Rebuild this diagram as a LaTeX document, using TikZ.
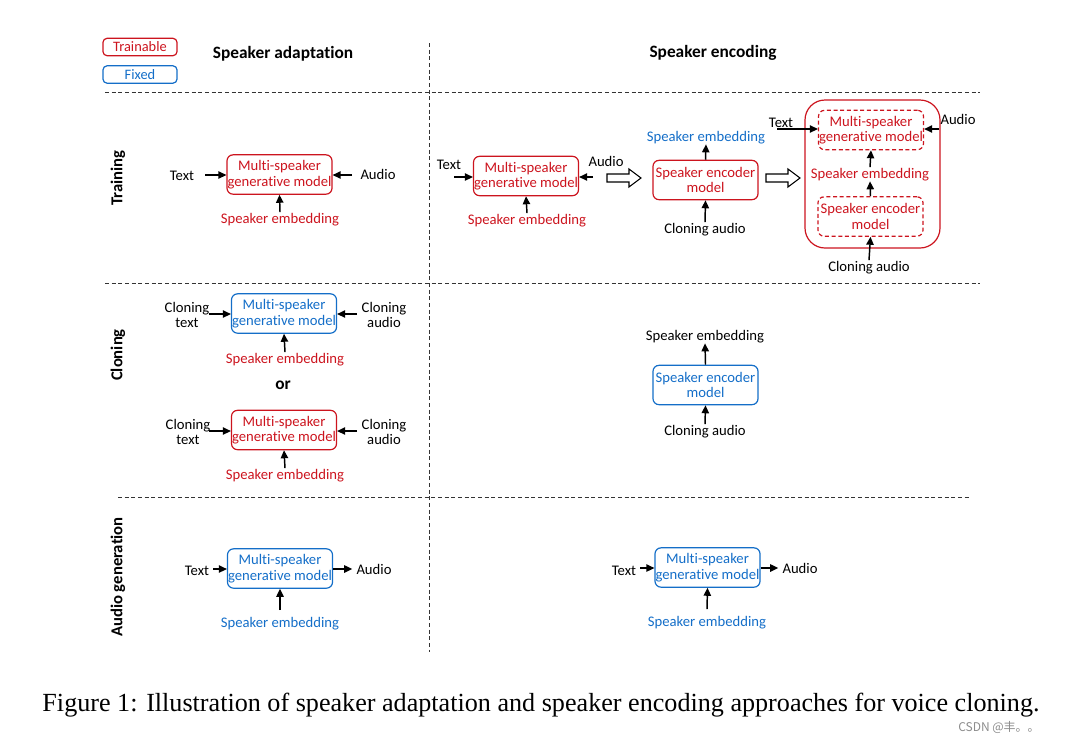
\documentclass[tikz,border=0pt]{standalone}
\usepackage{fontspec}
\setmainfont{Carlito}[Ligatures=NoCommon]
\newfontfamily\capfont{Liberation Serif}
\newfontfamily\cjk{Noto Sans CJK SC}
\usetikzlibrary{arrows.meta}
\definecolor{tred}{RGB}{204,20,30}
\definecolor{fblue}{RGB}{20,110,200}
\begin{document}
\begin{tikzpicture}[x=0.75pt,y=-0.75pt,
 txt/.style={font=\fontsize{11}{11.5}\selectfont, inner sep=0pt, align=center, yshift=-1.3pt},
 model/.style={draw, rounded corners=4.5pt, line width=0.9pt, minimum width=78.75pt, minimum height=29.5pt, inner sep=0pt, align=center, font=\fontsize{11}{11.5}\selectfont},
 trn/.style={model, draw=tred, text=tred},
 fix/.style={model, draw=fblue, text=fblue},
 dtrn/.style={trn, dash pattern=on 3pt off 2pt},
 legend/.style={draw, rounded corners=3pt, line width=0.9pt, minimum width=55.5pt, minimum height=13pt, inner sep=0pt, font=\fontsize{10.8}{12}\selectfont},
 arr/.style={-{Triangle[length=6pt,width=5.5pt]}, line width=1.1pt},
 sep/.style={dash pattern=on 3pt off 2pt, line width=0.7pt, draw=black!80},
 hdr/.style={font=\fontsize{13}{15}\selectfont\bfseries, inner sep=0pt},
 rowlab/.style={font=\fontsize{12.5}{15}\selectfont\bfseries, inner sep=0pt, rotate=90},
 harrow/.pic={\draw[line width=0.8pt, line join=miter] (0,-4)--(22,-4)--(22,-9)--(34,0)--(22,9)--(22,4)--(0,4)--cycle;}
]
\useasboundingbox (0,0) rectangle (1069,743);

% legend and headers
\node[legend, draw=tred, text=tred] (lt) at (140,47) {Trainable};
\node[legend, draw=fblue, text=fblue] (lf) at (140,74.5) {Fixed};
\node[hdr] (h1) at (283,54) {Speaker adaptation};
\node[hdr] (h2) at (713,53) {Speaker encoding};

% separators
\coordinate (v1) at (429,43); \coordinate (v2) at (429,652);
\draw[sep] (v1) -- (v2);
\coordinate (s1a) at (105,92); \coordinate (s1b) at (980,92);
\coordinate (s2a) at (105,283); \coordinate (s2b) at (980,283);
\coordinate (s3a) at (118,497); \coordinate (s3b) at (970,497);
\draw[sep] (s1a) -- (s1b);
\draw[sep] (s2a) -- (s2b);
\draw[sep] (s3a) -- (s3b);

% row labels
\node[rowlab] (r1) at (118,178) {Training};
\node[rowlab] (r2) at (118,355) {Cloning};
\node[rowlab] (r3) at (118,577) {Audio generation};

% ---------- Training, adaptation
\node[trn] (g1) at (279.5,174.5) {Multi-speaker\\generative model};
\node[txt] (t1) at (182,174) {Text};
\node[txt] (a1) at (378,173) {Audio};
\node[txt, text=tred] (e1) at (280,218) {Speaker embedding};
\coordinate (t1s) at (205,175); \coordinate (a1s) at (352,175);
\draw[arr] (t1s) -- (t1s -| g1.west);
\draw[arr] (a1s) -- (a1s -| g1.east);
\draw[arr] (e1.north) ++(0,-1) -- (g1.south);

% ---------- Training, encoding
\node[trn] (g2) at (526,176) {Multi-speaker\\generative model};
\node[txt] (t2) at (449,163) {Text};
\node[txt] (a2) at (606,160) {Audio};
\node[txt, text=tred] (e2) at (527,219) {Speaker embedding};
\coordinate (t2s) at (454,177); \coordinate (a2s) at (593,177);
\draw[arr] (t2s) -- (t2s -| g2.west);
\draw[arr] (a2s) -- (a2s -| g2.east);
\draw[arr] (e2.north) ++(0,-1) -- (g2.south);

\pic at (607,178) {harrow};

\node[trn] (c1) at (705.5,180) {Speaker encoder\\model};
\node[txt, text=fblue] (e3) at (706,136) {Speaker embedding};
\node[txt] (ca1) at (705,228) {Cloning audio};
\draw[arr] (c1.north) -- (e3.south);
\draw[arr] (ca1.north) ++(0,-1) -- (c1.south);

\pic at (766,178) {harrow};

\node[draw=tred, line width=0.9pt, rounded corners=15pt, minimum width=101.25pt, minimum height=111pt, inner sep=0pt] (big) at (872.5,174) {};
\node[dtrn] (g3) at (871,130) {Multi-speaker\\generative model};
\node[txt, text=tred] (e4) at (870,173) {Speaker embedding};
\node[dtrn] (c2) at (870.5,216.5) {Speaker encoder\\model};
\node[txt] (t3) at (781,121) {Text};
\node[txt] (a3) at (958,118) {Audio};
\node[txt] (ca2) at (869,266) {Cloning audio};
\coordinate (t3s) at (777,129); \coordinate (a3s) at (939,129);
\draw[arr] (t3s) -- (t3s -| g3.west);
\draw[arr] (a3s) -- (a3s -| g3.east);
\draw[arr] (e4.north) ++(0,-1) -- (g3.south);
\draw[arr] (c2.north) -- (e4.south);
\draw[arr] (ca2.north) ++(0,-1) -- (c2.south);

% ---------- Cloning, adaptation
\node[fix] (g4) at (284,313.5) {Multi-speaker\\generative model};
\node[txt] (t4) at (187,313) {Cloning\\text};
\node[txt] (a4) at (384,313) {Cloning\\audio};
\node[txt, text=tred] (e5) at (285,358) {Speaker embedding};
\coordinate (t4s) at (209,314); \coordinate (a4s) at (357,314);
\draw[arr] (t4s) -- (t4s -| g4.west);
\draw[arr] (a4s) -- (a4s -| g4.east);
\draw[arr] (e5.north) ++(0,-1) -- (g4.south);

\node[hdr] (or) at (283,385) {or};

\node[trn] (g5) at (284,430) {Multi-speaker\\generative model};
\node[txt] (t5) at (188,430) {Cloning\\text};
\node[txt] (a5) at (384,430) {Cloning\\audio};
\node[txt, text=tred] (e6) at (285,474) {Speaker embedding};
\coordinate (t5s) at (209,431); \coordinate (a5s) at (357,431);
\draw[arr] (t5s) -- (t5s -| g5.west);
\draw[arr] (a5s) -- (a5s -| g5.east);
\draw[arr] (e6.north) ++(0,-1) -- (g5.south);

% ---------- Cloning, encoding
\node[fix] (c3) at (705.5,385) {Speaker encoder\\model};
\node[txt] (e7) at (705,335) {Speaker embedding};
\node[txt] (ca3) at (705,430) {Cloning audio};
\draw[arr] (c3.north) -- (e7.south);
\draw[arr] (ca3.north) ++(0,-1) -- (c3.south);

% ---------- Audio generation, adaptation
\node[fix] (g6) at (280,568.5) {Multi-speaker\\generative model};
\node[txt] (t6) at (197,569) {Text};
\node[txt] (a6) at (374,568) {Audio};
\node[txt, text=fblue] (e8) at (280,622) {Speaker embedding};
\coordinate (t6s) at (213,569);
\draw[arr] (t6s) -- (t6s -| g6.west);
\draw[arr, shorten >=3pt] (g6.east |- t6s) -- (a6.west |- t6s);
\draw[arr] (e8.north) ++(0,-7) -- (g6.south);

% ---------- Audio generation, encoding
\node[fix] (g7) at (707.5,567.5) {Multi-speaker\\generative model};
\node[txt] (t7) at (624,569) {Text};
\node[txt] (a7) at (800,567) {Audio};
\node[txt, text=fblue] (e9) at (707,621) {Speaker embedding};
\coordinate (t7s) at (640,568);
\draw[arr] (t7s) -- (t7s -| g7.west);
\draw[arr, shorten >=3pt] (g7.east |- t7s) -- (a7.west |- t7s);
\draw[arr] (e9.north) ++(0,-7) -- (g7.south);

% caption and mark
\node[inner sep=0pt, font=\capfont\fontsize{19.6}{22}\selectfont] (cap) at (541,705) {Figure 1: Illustration of speaker adaptation and speaker encoding approaches for voice cloning.};
\node[inner sep=0pt, text=black!45, font=\cjk\fontsize{9}{11}\selectfont] (wm) at (999,727) {CSDN @丰。。};
\end{tikzpicture}
\end{document}
